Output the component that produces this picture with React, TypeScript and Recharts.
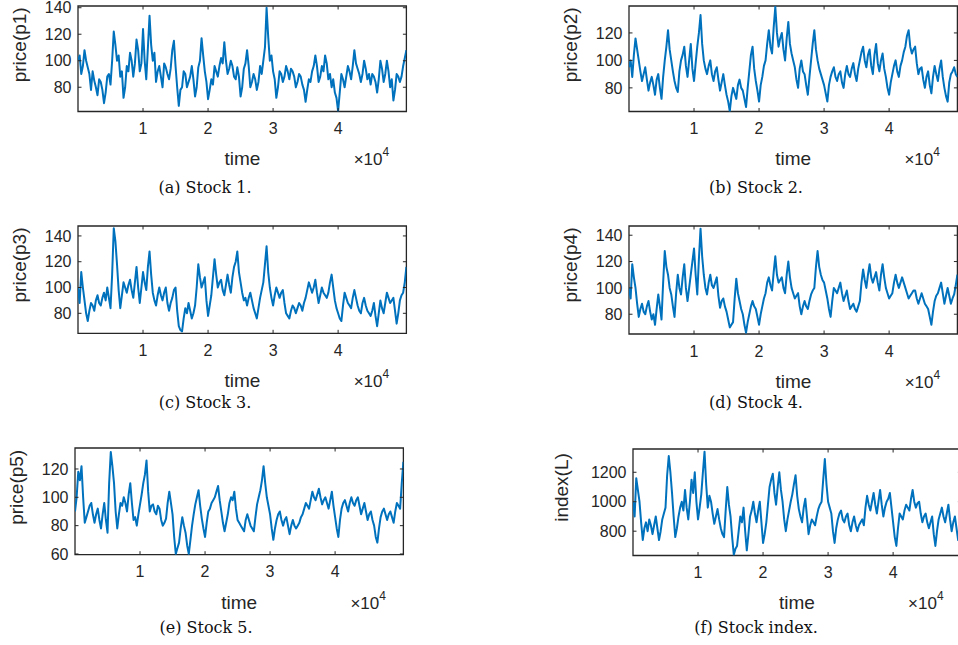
import { LineChart, Line, XAxis, YAxis, ReferenceArea } from "recharts";

// time axis: one sample every 250 steps, 0 .. 50500
const STEP = 250;
const X_MAX = 50500;
const xTicks = [10000, 20000, 30000, 40000];

const p1 = [
  100, 104, 90, 96, 108, 100, 95, 90, 78, 92, 85, 80, 74, 86, 84, 78, 68, 76, 88, 90,
  82, 100, 122, 112, 100, 104, 88, 92, 72, 80, 96, 92, 106, 100, 88, 98, 116, 108, 92, 98,
  124, 100, 86, 110, 134, 112, 100, 106, 84, 92, 96, 88, 80, 98, 95, 90, 86, 94, 108, 115,
  96, 80, 66, 78, 80, 92, 90, 80, 84, 88, 96, 86, 73, 80, 95, 100, 117, 104, 92, 84,
  71, 78, 86, 82, 96, 92, 88, 96, 102, 98, 114, 100, 90, 94, 100, 96, 88, 86, 95, 88,
  73, 80, 94, 98, 108, 96, 80, 84, 90, 86, 78, 84, 96, 90, 100, 110, 140, 118, 100, 104,
  92, 86, 72, 80, 92, 90, 84, 88, 96, 92, 86, 94, 92, 88, 80, 84, 90, 88, 82, 78,
  69, 78, 86, 84, 92, 96, 104, 96, 84, 88, 96, 92, 104, 98, 86, 90, 80, 86, 76, 72,
  62, 76, 90, 86, 80, 88, 96, 92, 86, 96, 108, 98, 94, 90, 84, 90, 100, 94, 86, 90,
  82, 90, 88, 84, 76, 86, 100, 94, 84, 90, 100, 92, 80, 86, 70, 78, 90, 88, 84, 88,
  96, 102, 108,
];

const p2 = [
  95, 100, 88, 104, 116, 108, 100, 92, 85, 90, 95, 86, 78, 84, 88, 82, 75, 86, 90, 80,
  72, 88, 100, 110, 122, 108, 100, 92, 85, 80, 77, 92, 100, 104, 110, 96, 88, 100, 112, 94,
  85, 98, 110, 120, 133, 112, 100, 94, 90, 96, 100, 90, 85, 92, 95, 86, 78, 84, 90, 82,
  75, 70, 63, 74, 80, 76, 72, 82, 86, 80, 78, 72, 66, 80, 92, 104, 110, 94, 85, 78,
  70, 82, 88, 96, 100, 112, 122, 110, 105, 124, 139, 120, 110, 116, 120, 108, 100, 116, 128, 112,
  105, 100, 95, 86, 80, 94, 100, 92, 90, 82, 75, 88, 100, 112, 122, 108, 100, 94, 90, 86,
  82, 76, 70, 82, 88, 92, 95, 88, 85, 90, 92, 84, 80, 90, 96, 90, 88, 94, 98, 90,
  85, 94, 100, 106, 110, 100, 95, 104, 108, 96, 90, 104, 112, 98, 92, 100, 105, 94, 88, 80,
  75, 84, 90, 96, 100, 92, 88, 96, 100, 106, 110, 118, 122, 110, 105, 108, 110, 98, 90, 94,
  95, 86, 80, 88, 92, 82, 76, 88, 96, 90, 85, 94, 100, 88, 80, 74, 70, 84, 90, 92,
  95, 90, 88,
];

const p3 = [
  100, 88, 112, 100, 90, 80, 74, 82, 88, 86, 82, 90, 94, 88, 86, 92, 96, 90, 100, 92,
  84, 110, 146, 136, 118, 98, 84, 94, 104, 100, 96, 102, 106, 98, 92, 104, 116, 100, 88, 100,
  112, 104, 98, 116, 128, 110, 96, 90, 86, 94, 100, 94, 90, 96, 100, 88, 82, 88, 92, 98,
  100, 82, 70, 67, 66, 76, 84, 80, 88, 82, 76, 80, 86, 100, 118, 108, 100, 104, 108, 90,
  78, 86, 94, 108, 122, 110, 100, 104, 106, 98, 94, 102, 110, 102, 96, 108, 116, 120, 128, 112,
  104, 96, 90, 92, 86, 92, 96, 90, 84, 80, 76, 84, 92, 98, 104, 118, 132, 112, 100, 92,
  86, 94, 100, 96, 92, 96, 98, 88, 80, 78, 76, 82, 86, 84, 80, 84, 88, 86, 82, 88,
  92, 98, 104, 100, 96, 100, 106, 96, 88, 94, 100, 96, 94, 92, 96, 104, 110, 100, 90, 84,
  80, 76, 74, 86, 96, 92, 88, 86, 84, 92, 98, 92, 86, 82, 80, 88, 92, 86, 82, 80,
  78, 82, 88, 78, 70, 80, 90, 84, 80, 88, 96, 92, 88, 90, 92, 82, 72, 80, 90, 94,
  96, 104, 116,
];

const p4 = [
  100, 92, 118, 108, 100, 88, 78, 84, 88, 82, 80, 86, 90, 82, 76, 80, 72, 84, 95, 86,
  76, 104, 128, 116, 110, 100, 95, 86, 78, 96, 110, 100, 95, 108, 118, 100, 90, 100, 110, 120,
  130, 110, 95, 122, 145, 124, 110, 100, 95, 104, 110, 102, 100, 104, 108, 94, 85, 90, 92, 86,
  82, 76, 70, 72, 74, 92, 107, 96, 90, 84, 80, 72, 66, 74, 80, 86, 90, 86, 84, 78,
  72, 80, 86, 92, 96, 104, 108, 102, 98, 112, 124, 110, 104, 106, 108, 100, 96, 110, 120, 108,
  100, 96, 92, 94, 96, 86, 80, 86, 90, 86, 84, 90, 95, 98, 100, 116, 128, 116, 110, 106,
  104, 98, 92, 84, 78, 90, 100, 98, 96, 100, 104, 96, 90, 94, 98, 90, 84, 86, 88, 84,
  82, 86, 90, 104, 114, 106, 100, 110, 118, 108, 104, 108, 112, 104, 98, 110, 118, 108, 100, 96,
  92, 94, 96, 104, 110, 104, 100, 104, 108, 104, 100, 96, 92, 94, 96, 98, 98, 92, 88, 92,
  96, 92, 88, 86, 84, 78, 72, 82, 90, 94, 96, 100, 104, 96, 88, 94, 100, 94, 88, 92,
  95, 102, 110,
];

const p5 = [
  90, 100, 118, 112, 122, 100, 82, 86, 90, 94, 96, 88, 82, 88, 92, 84, 78, 88, 96, 84,
  75, 110, 132, 122, 110, 90, 78, 88, 96, 94, 100, 96, 90, 102, 110, 96, 84, 86, 80, 88,
  95, 102, 110, 116, 126, 104, 90, 94, 95, 90, 88, 94, 92, 84, 80, 82, 85, 96, 104, 96,
  88, 72, 60, 64, 68, 78, 86, 80, 75, 66, 60, 70, 80, 88, 95, 100, 105, 94, 85, 78,
  72, 82, 90, 92, 96, 98, 100, 104, 108, 98, 90, 82, 76, 82, 88, 96, 100, 98, 104, 92,
  84, 82, 80, 78, 76, 84, 88, 84, 80, 78, 76, 86, 95, 100, 105, 112, 122, 110, 100, 94,
  88, 78, 70, 78, 84, 88, 90, 84, 80, 84, 86, 80, 74, 80, 84, 80, 78, 80, 82, 86,
  88, 92, 96, 94, 92, 98, 104, 100, 98, 102, 106, 100, 95, 98, 100, 96, 92, 98, 104, 94,
  86, 78, 72, 84, 92, 96, 98, 94, 90, 96, 100, 96, 94, 98, 100, 94, 88, 92, 96, 90,
  84, 88, 90, 84, 80, 72, 68, 78, 86, 90, 92, 88, 84, 88, 90, 86, 82, 90, 96, 94,
  92, 110, 125,
];

const indexL = [
  1000, 900, 1160, 1080, 1000, 860, 740, 820, 860, 800, 880, 840, 780, 840, 900, 820, 740, 800, 880, 920,
  960, 1180, 1310, 1200, 1060, 900, 760, 820, 900, 960, 1000, 940, 1080, 960, 880, 1000, 1150, 1060, 1200, 1000,
  880, 960, 1050, 1200, 1340, 1120, 960, 1040, 1000, 920, 850, 900, 950, 880, 820, 780, 760, 940, 1100, 980,
  900, 760, 640, 680, 700, 800, 900, 860, 960, 800, 670, 780, 900, 940, 1000, 920, 860, 940, 1000, 860,
  720, 780, 860, 980, 1100, 1150, 1190, 1060, 980, 1100, 1200, 1080, 1000, 880, 800, 880, 940, 1000, 1050, 1120,
  1180, 1040, 950, 900, 860, 960, 1020, 900, 780, 840, 880, 860, 840, 900, 950, 980, 1000, 1150, 1290, 1120,
  1000, 960, 920, 800, 720, 820, 880, 920, 940, 880, 860, 900, 920, 840, 800, 860, 900, 840, 800, 840,
  860, 880, 840, 960, 1040, 980, 940, 1000, 1060, 980, 920, 1000, 1080, 980, 900, 960, 1000, 1020, 1060, 960,
  860, 760, 700, 820, 920, 900, 880, 940, 980, 960, 940, 1020, 1080, 1000, 960, 990, 1000, 920, 860, 900,
  920, 860, 820, 860, 900, 780, 700, 800, 880, 920, 960, 900, 860, 920, 980, 880, 800, 860, 900, 820,
  740, 780, 820,
];

const BOX = "#262626";
const BLUE = "#0072BD";
const SANS = "'Liberation Sans', Arial, Helvetica, sans-serif";
const SERIF = "'DejaVu Serif', serif";
const TL = 3.5;
const ML = 70;
const MT = 10;
const MR = 10;
const MB = 40;

type PanelProps = {
  x: number;
  y: number;
  w: number;
  h: number;
  values: number[];
  domain: [number, number];
  yTicks: number[];
};

const Panel = ({ x, y, w, h, values, domain, yTicks }: PanelProps) => {
  const data = values.map((v, i) => ({ t: i * STEP, v }));

  const xTick = (p: any) => (
    <g>
      <line x1={p.x} x2={p.x} y1={p.y} y2={p.y - TL} stroke={BOX} />
      <line x1={p.x} x2={p.x} y1={p.y - h} y2={p.y - h + TL} stroke={BOX} />
      <text x={p.x} y={p.y + 22.7} textAnchor="middle" fontSize={16} fill={BOX} fontFamily={SANS}>
        {p.payload.value / 10000}
      </text>
    </g>
  );

  const yTick = (p: any) => (
    <g>
      <line x1={p.x} x2={p.x + TL} y1={p.y} y2={p.y} stroke={BOX} />
      <line x1={p.x + w} x2={p.x + w - TL} y1={p.y} y2={p.y} stroke={BOX} />
      <text x={p.x - 6.5} y={p.y} dy="0.36em" textAnchor="end" fontSize={16} fill={BOX} fontFamily={SANS}>
        {p.payload.value}
      </text>
    </g>
  );

  return (
    <div style={{ position: "absolute", left: x - ML, top: y - MT }}>
      <LineChart
        width={w + ML + MR}
        height={h + MT + MB}
        data={data}
        margin={{ top: MT, right: MR, left: 0, bottom: 0 }}
      >
        <XAxis
          type="number"
          dataKey="t"
          domain={[0, X_MAX]}
          ticks={xTicks}
          interval={0}
          allowDataOverflow
          height={MB}
          tickSize={0}
          tickMargin={0}
          tickLine={false}
          axisLine={false}
          tick={xTick}
        />
        <YAxis
          type="number"
          domain={domain}
          ticks={yTicks}
          interval={0}
          allowDataOverflow
          width={ML}
          tickSize={0}
          tickMargin={0}
          tickLine={false}
          axisLine={false}
          tick={yTick}
        />
        <ReferenceArea
          x1={0}
          x2={X_MAX}
          y1={domain[0]}
          y2={domain[1]}
          fill="none"
          stroke={BOX}
          strokeWidth={1.3}
          strokeOpacity={1}
        />
        <Line
          type="linear"
          dataKey="v"
          stroke={BLUE}
          strokeWidth={2}
          strokeLinejoin="round"
          dot={false}
          isAnimationActive={false}
        />
      </LineChart>
    </div>
  );
};

const panels = [
  { x: 78.3, y: 5.8, w: 328.4, h: 105.5, values: p1, domain: [61.7, 141.3] as [number, number], yTicks: [80, 100, 120, 140], ylabel: "price(p1)", yOff: 52, caption: "(a) Stock 1.", cx: 205, cy: 193 },
  { x: 629, y: 5.8, w: 328.4, h: 105.5, values: p2, domain: [62.8, 139.6] as [number, number], yTicks: [80, 100, 120], ylabel: "price(p2)", yOff: 52, caption: "(b) Stock 2.", cx: 756, cy: 193 },
  { x: 78.3, y: 226, w: 328.4, h: 107.3, values: p3, domain: [64.5, 147.7] as [number, number], yTicks: [80, 100, 120, 140], ylabel: "price(p3)", yOff: 52, caption: "(c) Stock 3.", cx: 205, cy: 408 },
  { x: 629.3, y: 226, w: 328.4, h: 108, values: p4, domain: [65, 147] as [number, number], yTicks: [80, 100, 120, 140], ylabel: "price(p4)", yOff: 52, caption: "(d) Stock 4.", cx: 756, cy: 408 },
  { x: 75, y: 448.3, w: 328.4, h: 106.7, values: p5, domain: [59.5, 134.8] as [number, number], yTicks: [60, 80, 100, 120], ylabel: "price(p5)", yOff: 52, caption: "(e) Stock 5.", cx: 206, cy: 633 },
  { x: 632.7, y: 448.5, w: 328.4, h: 106.5, values: indexL, domain: [635, 1358] as [number, number], yTicks: [800, 1000, 1200], ylabel: "index(L)", yOff: 65, caption: "(f) Stock index.", cx: 756, cy: 633 },
];

export default function App() {
  return (
    <div
      style={{
        position: "fixed",
        left: 0,
        top: 0,
        width: 958,
        height: 645,
        overflow: "hidden",
        background: "#fff",
      }}
    >
      {panels.map((p) => (
        <Panel key={p.caption} x={p.x} y={p.y} w={p.w} h={p.h} values={p.values} domain={p.domain} yTicks={p.yTicks} />
      ))}
      <svg width={958} height={645} style={{ position: "absolute", left: 0, top: 0, pointerEvents: "none" }}>
        {panels.map((p) => {
          const bottom = p.y + p.h;
          const ly = p.y + 39;
          const lx = p.x - p.yOff;
          return (
            <g key={p.caption}>
              <text x={p.x + p.w / 2} y={bottom + 54} textAnchor="middle" fontSize={19} fill={BOX} fontFamily={SANS}>
                time
              </text>
              <text x={p.x + p.w - 53} y={bottom + 54} fontSize={17} fill={BOX} fontFamily={SANS}>
                ×10
                <tspan dy={-9} fontSize={12}>4</tspan>
              </text>
              <text
                x={lx}
                y={ly}
                textAnchor="middle"
                fontSize={19}
                fill={BOX}
                fontFamily={SANS}
                transform={`rotate(-90 ${lx} ${ly})`}
              >
                {p.ylabel}
              </text>
              <text x={p.cx} y={p.cy} textAnchor="middle" fontSize={16} fill="#111" fontFamily={SERIF}>
                {p.caption}
              </text>
            </g>
          );
        })}
      </svg>
    </div>
  );
}
